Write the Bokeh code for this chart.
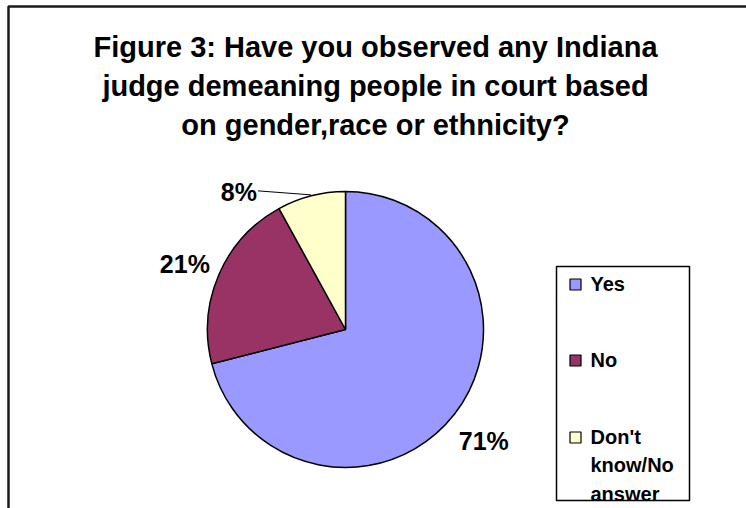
import math
from bokeh.plotting import figure
from bokeh.models import Range1d, ColumnDataSource
from bokeh.core.properties import value
from bokeh.embed import file_html
from bokeh.resources import INLINE

# ---- data ----
categories = ["Yes", "No", "Don't know/No answer"]
shares = [71, 21, 8]
labels = ["71%", "21%", "8%"]
colors = ["#9999FF", "#993366", "#FFFFCC"]
title_lines = ["Figure 3: Have you observed any Indiana",
               "judge demeaning people in court based",
               "on gender,race or ethnicity?"]

W, H = 746, 508
def Y(py):
    return H - py

p = figure(width=W, height=H, output_backend="svg", toolbar_location=None,
           x_range=Range1d(0, W), y_range=Range1d(0, H), min_border=0)
p.axis.visible = False
p.grid.visible = False
p.outline_line_color = None
p.background_fill_color = "white"

# outer frame (extends past right/bottom edges)
p.quad(left=[8], right=[W + 40], top=[Y(6)], bottom=[Y(H + 40)],
       fill_color=None, line_color="#1a1a1a", line_width=2.5)

# title
p.text(x=[375] * 3, y=[Y(46), Y(85), Y(124)], text=title_lines,
       text_align="center", text_baseline="alphabetic",
       text_font=value("Liberation Sans"), text_font_style="bold",
       text_font_size="29px", text_color="black")

# pie
cx, cy, r = 345, Y(329), 138
total = float(sum(shares))
cum = 0.0
starts, ends, mids = [], [], []
for s in shares:
    c0 = cum / total
    cum += s
    c1 = cum / total
    starts.append(math.pi / 2 - c1 * 2 * math.pi)
    ends.append(math.pi / 2 - c0 * 2 * math.pi)
    mids.append(math.pi / 2 - (c0 + c1) / 2 * 2 * math.pi)

src = ColumnDataSource(dict(x=[cx] * 3, y=[cy] * 3, start=starts, end=ends,
                            color=colors, cat=categories))
p.wedge(x="x", y="y", radius=r, start_angle="start", end_angle="end",
        fill_color="color", line_color="black", line_width=1.5, source=src)

# data labels
lr = 175
lx, ly, la = [], [], []
for i, m in enumerate(mids):
    if shares[i] < 10:
        ex, ey = cx + (r + 1) * math.cos(m), cy + (r + 1) * math.sin(m)
        bx, by = ex - 53, ey + 4
        p.line(x=[ex, bx], y=[ey, by], line_color="black", line_width=1)
        lx.append(bx - 1); ly.append(by - 1); la.append("right")
    else:
        lx.append(cx + lr * math.cos(m)); ly.append(cy + lr * math.sin(m) - 4); la.append("center")
p.text(x=lx, y=ly, text=labels, text_align=la, text_baseline="middle",
       text_font=value("Liberation Sans"), text_font_style="bold",
       text_font_size="25px", text_color="black")

# legend
p.quad(left=[556], right=[689], top=[Y(266)], bottom=[Y(500)],
       fill_color="white", line_color="black", line_width=1.5)
leg_y = [Y(284), Y(360), Y(437)]
p.rect(x=[575] * 3, y=leg_y, width=11, height=11, fill_color=colors,
       line_color="black", line_width=1.2)
leg_text = [c.replace(" know", "\nknow").replace("No answer", "No\nanswer") for c in categories]
p.text(x=[590] * 3, y=[v + 12 for v in leg_y], text=leg_text,
       text_align="left", text_baseline="top",
       text_font=value("Liberation Sans"), text_font_style="bold",
       text_font_size="20px", text_color="black", text_line_height=1.3)

open("out.html", "w").write(file_html(p, INLINE))
